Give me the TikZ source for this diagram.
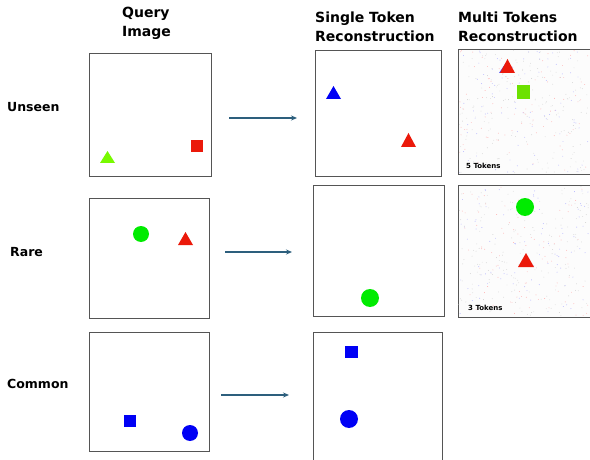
\documentclass[tikz,border=0pt]{standalone}
\usepackage{fontspec}
\setmainfont{DejaVu Sans}
\usetikzlibrary{arrows.meta, positioning, calc}
\definecolor{flowblue}{RGB}{45, 95, 125}
\definecolor{shapered}{RGB}{235, 25, 10}
\definecolor{shapegreen}{RGB}{0, 235, 0}
\definecolor{shapelime}{RGB}{120, 250, 0}
\definecolor{shapeblue}{RGB}{0, 0, 245}
\definecolor{boxgray}{RGB}{85, 85, 85}
\definecolor{noisebg}{RGB}{252, 252, 252}

\begin{document}
\begin{tikzpicture}[x=1pt, y=-1pt,
  imgbox/.style={draw=boxgray, line width=1.1pt, fill=white, anchor=north west, inner sep=0pt},
  noisebox/.style={imgbox, fill=noisebg},
  head/.style={font=\bfseries\fontsize{14}{18.5}\selectfont, align=left, anchor=north west, inner sep=0pt},
  rowlab/.style={font=\bfseries\fontsize{12.5}{15}\selectfont, anchor=base west, inner sep=0pt},
  toklab/.style={font=\bfseries\fontsize{7}{8}\selectfont, anchor=base west, inner sep=0pt},
  flow/.style={flowblue, line width=1.3pt, -{Stealth[length=6pt, width=5pt]}}
]

  % page
  \useasboundingbox (0,0) rectangle (590,460);
  \clip (0,0) rectangle (590,460);
  \fill[white] (0,0) rectangle (590,460);

  % column titles
  \node[head] (hquery) at (122,7) {Query\\Image};
  \node[head] (hsingle) at (315,12) {Single Token\\Reconstruction};
  \node[head] (hmulti) at (458,12) {Multi Tokens\\Reconstruction};

  % row titles
  \node[rowlab] (lunseen) at (7,112) {Unseen};
  \node[rowlab] (lrare) at (10,256) {Rare};
  \node[rowlab] (lcommon) at (7,388) {Common};

  % query images
  \node[imgbox, minimum width=122pt, minimum height=123pt] (q1) at (89,53) {};
  \node[imgbox, minimum width=120pt, minimum height=120pt] (q2) at (89,198) {};
  \node[imgbox, minimum width=120pt, minimum height=119pt] (q3) at (89,332) {};

  % single token reconstructions
  \node[imgbox, minimum width=126pt, minimum height=126pt] (s1) at (315,50) {};
  \node[imgbox, minimum width=131pt, minimum height=131pt] (s2) at (313,185) {};
  \node[imgbox, minimum width=129pt, minimum height=132pt] (s3) at (313,332) {};

  % multi token reconstructions
  \node[noisebox, minimum width=140pt, minimum height=125pt] (m1) at (458,49) {};
  \node[noisebox, minimum width=140pt, minimum height=132pt] (m2) at (458,185) {};

  % noise in the multi token images
  \pgfmathsetseed{11}
  \foreach \ytop/\hgt in {50/123, 186/130} {
    \foreach \dotcol in {red!30, blue!30, gray!35, gray!25} {
      \foreach \k in {1,...,90} {
        \fill[\dotcol] ({459+130*rnd},{\ytop+\hgt*rnd}) circle (0.45);
      }
    }
  }
  \node[toklab] (tok5) at (466,168) {5 Tokens};
  \node[toklab] (tok3) at (468,310) {3 Tokens};

  % arrows
  \coordinate (a1s) at (229,118);
  \coordinate (a1e) at (297,118);
  \coordinate (a2s) at (225,252);
  \coordinate (a2e) at (292,252);
  \coordinate (a3s) at (221,395);
  \coordinate (a3e) at (289,395);
  \draw[flow] (a1s) -- (a1e);
  \draw[flow] (a2s) -- (a2e);
  \draw[flow] (a3s) -- (a3e);

  % row 1: unseen
  \fill[shapelime] (100,163) -- (115,163) -- (107.5,151) -- cycle;
  \fill[shapered] (191,140) rectangle (203,152);
  \fill[shapeblue] (326,99) -- (341,99) -- (333.5,86) -- cycle;
  \fill[shapered] (401,147) -- (416,147) -- (408.5,133) -- cycle;
  \fill[shapeblue!70] (499,73) -- (510,73) -- (505,64) -- cycle;
  \fill[shapered] (500,73) -- (515,73) -- (507.5,59) -- cycle;
  \fill[shapelime!90!black] (517,85) rectangle (530,99);

  % row 2: rare
  \fill[shapegreen] (141,234) circle (8);
  \fill[shapered] (178,245) -- (193,245) -- (185.5,232) -- cycle;
  \fill[shapegreen] (370,298) circle (9);
  \fill[shapegreen] (525,207) circle (9);
  \fill[shapered] (518,267) -- (534,267) -- (526,253) -- cycle;

  % row 3: common
  \fill[shapeblue] (124,415) rectangle (136,427);
  \fill[shapeblue] (190,433) circle (8);
  \fill[shapeblue] (345,346) rectangle (358,358);
  \fill[shapeblue] (349,419) circle (9);

\end{tikzpicture}
\end{document}
